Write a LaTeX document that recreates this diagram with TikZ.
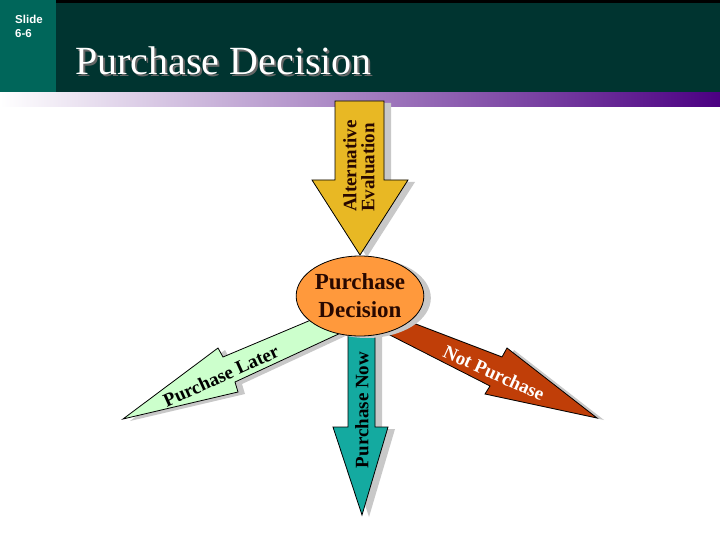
\documentclass[tikz,border=0pt]{standalone}
\usepackage{fontspec}
\setmainfont{Liberation Serif}
\newfontfamily\slidesans{Liberation Sans}
\usetikzlibrary{shapes.geometric, shadows}
\definecolor{headdark}{RGB}{0,52,48}
\definecolor{headteal}{RGB}{0,102,90}
\definecolor{bandgray}{RGB}{184,178,200}
\definecolor{bandpurple}{RGB}{75,0,130}
\definecolor{altyellow}{RGB}{232,184,36}
\definecolor{decorange}{RGB}{255,153,60}
\definecolor{nowteal}{RGB}{20,170,160}
\definecolor{latergreen}{RGB}{204,255,204}
\definecolor{notred}{RGB}{192,62,8}
\definecolor{shadowgray}{RGB}{200,200,200}
\definecolor{textbrown}{RGB}{40,8,0}
\tikzstyle{blockarrow} = [draw=black, line width=0.8pt, drop shadow={shadow xshift=7pt, shadow yshift=-2pt, fill=shadowgray, opacity=1}]
\tikzstyle{decision} = [ellipse, draw=black, line width=0.8pt, fill=decorange, minimum width=124pt, minimum height=80pt, inner sep=0pt, align=center, text=textbrown, font=\bfseries\fontsize{23}{28}\selectfont, drop shadow={shadow xshift=7pt, shadow yshift=-2pt, fill=shadowgray, opacity=1}]
\tikzstyle{arrowlabel} = [inner sep=0pt, font=\bfseries\fontsize{19}{18}\selectfont]

\begin{document}
\begin{tikzpicture}[x=1pt, y=-1pt]
    \useasboundingbox (0,0) rectangle (720,540);
    % header
    \fill[headdark] (0,0) rectangle (720,93);
    \fill[black] (56,0) rectangle (720,3);
    \fill[headteal] (0,0) rectangle (56,93);
    \shade[left color=white, middle color=bandgray, right color=bandpurple] (0,93) rectangle (720,107);
    \node[anchor=north west, align=left, text=white, inner sep=0pt, font=\slidesans\bfseries\fontsize{11.5}{14}\selectfont] (slideno) at (15,15) {Slide\\6-6};
    \node[anchor=base west, inner sep=0pt, text=black!60, font=\fontsize{40}{40}\selectfont] (titleshadow) at (77,77) {Purchase Decision};
    \node[anchor=base west, inner sep=0pt, text=white, font=\fontsize{40}{40}\selectfont] (title) at (75,75) {Purchase Decision};

    % outcome arrows
    \draw[blockarrow, fill=latergreen] (330,312) -- (223,357) -- (218,348) -- (123,419) -- (238,392) -- (235,382) -- (345,331) -- cycle;
    \draw[blockarrow, fill=notred] (400,318) -- (502,357) -- (507,348) -- (597,418) -- (485,394) -- (490,386) -- (380,330) -- cycle;
    \draw[blockarrow, fill=nowteal] (348,320) -- (375,320) -- (375,427) -- (388,427) -- (362,515) -- (333,427) -- (348,427) -- cycle;
    % input arrow
    \draw[blockarrow, fill=altyellow] (335,101) -- (384,101) -- (384,180) -- (408,180) -- (360,255) -- (312,180) -- (335,180) -- cycle;

    \node[decision] (dec) at (360,296) {Purchase\\Decision};

    % labels
    \node[arrowlabel, rotate=90, align=left, text=textbrown] (altlabel) at (359,166) {Alternative\\Evaluation};
    \node[arrowlabel, rotate=90] (nowlabel) at (362,410) {Purchase Now};
    \node[arrowlabel, rotate=24.5] (laterlabel) at (221,376) {Purchase Later};
    \node[arrowlabel, rotate=-24.5, text=white] (notlabel) at (494,373) {Not Purchase};
\end{tikzpicture}
\end{document}
